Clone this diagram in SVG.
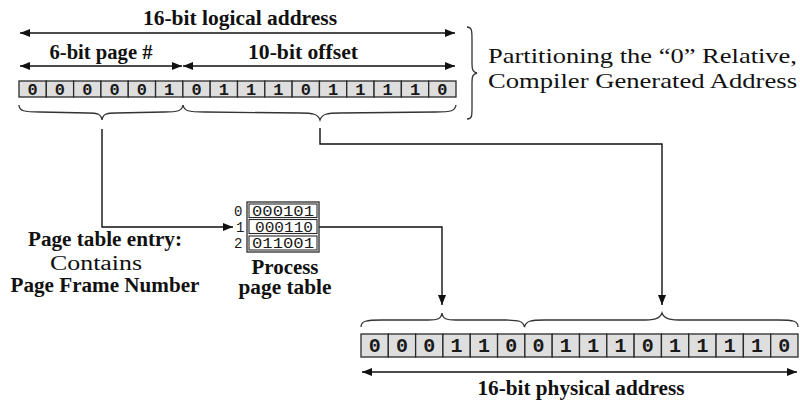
<svg xmlns="http://www.w3.org/2000/svg" width="800" height="402" viewBox="0 0 800 402">
  <style>
    .bg { fill: #ffffff; }
    .cell { fill: #dedede; stroke: #2a2a2a; stroke-width: 1.3; }
    .row { fill: #ffffff; stroke: #2a2a2a; stroke-width: 1.1; }
    .frame { fill: none; stroke: #2a2a2a; stroke-width: 1.3; }
    .bit { font-family: "Liberation Mono", "Courier New", monospace; font-weight: bold; text-anchor: middle; fill: #1a1a1a; }
    .bitTop { font-size: 17px; }
    .bitBot { font-size: 20px; }
    .pte { font-family: "Liberation Mono", "Courier New", monospace; font-size: 14px; fill: #1a1a1a; }
    .lbl { font-family: "Liberation Serif", "Times New Roman", serif; font-weight: bold; font-size: 20px; fill: #111; }
    .reg { font-family: "Liberation Serif", "Times New Roman", serif; font-size: 20px; fill: #111; }
    .note { font-family: "Liberation Serif", "Times New Roman", serif; font-size: 22px; fill: #111; }
    .wire { fill: none; stroke: #111; stroke-width: 1.4; }
    .brace { fill: none; stroke: #333; stroke-width: 1.3; }
  </style>
  <defs>
    <marker id="head" viewBox="0 0 10 8" refX="10" refY="4" markerWidth="10" markerHeight="8" markerUnits="userSpaceOnUse" orient="auto-start-reverse">
      <path d="M0,0 L10,4 L0,8 z" fill="#111"/>
    </marker>
  </defs>

  <rect class="bg" x="0" y="0" width="800" height="402"/>

  <!-- field width dimension lines -->
  <g id="dimensions">
    <line class="wire" x1="20" y1="33" x2="455" y2="33" marker-start="url(#head)" marker-end="url(#head)"/>
    <text class="lbl" x="240" y="25" text-anchor="middle" textLength="194" lengthAdjust="spacingAndGlyphs">16-bit logical address</text>
    <line class="wire" x1="20" y1="66" x2="182" y2="66" marker-start="url(#head)" marker-end="url(#head)"/>
    <line class="wire" x1="183" y1="66" x2="455" y2="66" marker-start="url(#head)" marker-end="url(#head)"/>
    <text class="lbl" x="101" y="59" text-anchor="middle" textLength="103" lengthAdjust="spacingAndGlyphs">6-bit page #</text>
    <text class="lbl" x="303" y="59" text-anchor="middle" textLength="110" lengthAdjust="spacingAndGlyphs">10-bit offset</text>
  </g>

  <!-- logical address register -->
  <g id="logical-address">
    <rect class="cell" x="19" y="81" width="27.31" height="16"/>
    <rect class="cell" x="46.31" y="81" width="27.31" height="16"/>
    <rect class="cell" x="73.62" y="81" width="27.31" height="16"/>
    <rect class="cell" x="100.94" y="81" width="27.31" height="16"/>
    <rect class="cell" x="128.25" y="81" width="27.31" height="16"/>
    <rect class="cell" x="155.56" y="81" width="27.31" height="16"/>
    <rect class="cell" x="182.88" y="81" width="27.31" height="16"/>
    <rect class="cell" x="210.19" y="81" width="27.31" height="16"/>
    <rect class="cell" x="237.5" y="81" width="27.31" height="16"/>
    <rect class="cell" x="264.81" y="81" width="27.31" height="16"/>
    <rect class="cell" x="292.12" y="81" width="27.31" height="16"/>
    <rect class="cell" x="319.44" y="81" width="27.31" height="16"/>
    <rect class="cell" x="346.75" y="81" width="27.31" height="16"/>
    <rect class="cell" x="374.06" y="81" width="27.31" height="16"/>
    <rect class="cell" x="401.38" y="81" width="27.31" height="16"/>
    <rect class="cell" x="428.69" y="81" width="27.31" height="16"/>
    <g class="bit bitTop">
      <text x="32.66" y="94.5">0</text><text x="59.97" y="94.5">0</text><text x="87.28" y="94.5">0</text><text x="114.59" y="94.5">0</text>
      <text x="141.91" y="94.5">0</text><text x="169.22" y="94.5">1</text><text x="196.53" y="94.5">0</text><text x="223.84" y="94.5">1</text>
      <text x="251.16" y="94.5">1</text><text x="278.47" y="94.5">1</text><text x="305.78" y="94.5">0</text><text x="333.09" y="94.5">1</text>
      <text x="360.41" y="94.5">1</text><text x="387.72" y="94.5">1</text><text x="415.03" y="94.5">1</text><text x="442.34" y="94.5">0</text>
    </g>
    <!-- braces under the page and offset fields -->
    <path class="brace" d="M19,105 C19,111 24,112 40,112 L88,113 C98,113 101,114 102,120 C103,114 106,113 116,113 L164,112 C178,112 182,111 183,105"/>
    <path class="brace" d="M183,105 C184,111 188,112 205,112 L300,113 C313,113 318,114 320,120 C322,114 327,113 340,113 L435,112 C452,112 455,111 456,105"/>
  </g>

  <!-- side note with brace -->
  <g id="note">
    <path class="brace" d="M467,27 C472,27 472,31 472,40 L472,64 C472,70 473,72 477,73 C473,74 472,76 472,82 L472,108 C472,116 472,119 467,119"/>
    <text class="note" x="488" y="63" textLength="309" lengthAdjust="spacingAndGlyphs">Partitioning the “0” Relative,</text>
    <text class="note" x="488" y="88" textLength="309" lengthAdjust="spacingAndGlyphs">Compiler Generated Address</text>
  </g>

  <!-- connectors -->
  <g id="connectors">
    <path class="wire" d="M102,129 L102,227 L233,227" marker-end="url(#head)"/>
    <path class="wire" d="M320,128 L320,144 L662,144 L662,305" marker-end="url(#head)"/>
    <path class="wire" d="M319,227 L442,227 L442,305" marker-end="url(#head)"/>
  </g>

  <!-- process page table -->
  <g id="page-table">
    <rect class="frame" x="247" y="202" width="72" height="50"/>
    <rect class="row" x="249" y="204" width="68" height="13.5"/>
    <rect class="row" x="249" y="219.5" width="68" height="14"/>
    <rect class="row" x="249" y="236" width="68" height="14"/>
    <text class="pte" x="234" y="215.5">0</text>
    <text class="pte" x="236" y="232">1</text>
    <text class="pte" x="234" y="248">2</text>
    <text class="pte" x="283" y="215.5" text-anchor="middle" textLength="62" lengthAdjust="spacingAndGlyphs">000101</text>
    <text class="pte" x="284" y="232" text-anchor="middle" textLength="58" lengthAdjust="spacingAndGlyphs">000110</text>
    <text class="pte" x="283" y="248" text-anchor="middle" textLength="62" lengthAdjust="spacingAndGlyphs">011001</text>
    <text class="lbl" x="285" y="274" text-anchor="middle" textLength="67" lengthAdjust="spacingAndGlyphs">Process</text>
    <text class="lbl" x="285" y="294" text-anchor="middle" textLength="93" lengthAdjust="spacingAndGlyphs">page table</text>
  </g>

  <!-- page table entry caption -->
  <g id="entry-caption">
    <text class="lbl" x="105" y="246" text-anchor="middle" textLength="154" lengthAdjust="spacingAndGlyphs">Page table entry:</text>
    <text class="reg" x="96" y="270" text-anchor="middle" textLength="92" lengthAdjust="spacingAndGlyphs">Contains</text>
    <text class="lbl" x="105" y="292" text-anchor="middle" textLength="189" lengthAdjust="spacingAndGlyphs">Page Frame Number</text>
  </g>

  <!-- physical address register -->
  <g id="physical-address">
    <path class="brace" d="M361,327 C361,321 366,320 382,320 L428,320 C438,320 441,319 442,313 C443,319 446,320 456,320 L505,320 C519,320 523,321 524.5,327 C526,321 530,320 545,320 L640,320 C654,320 660,319 662,313 C664,319 670,320 684,320 L778,320 C794,320 798,321 798,327"/>
    <rect class="cell" x="361" y="334" width="27.31" height="23"/>
    <rect class="cell" x="388.31" y="334" width="27.31" height="23"/>
    <rect class="cell" x="415.62" y="334" width="27.31" height="23"/>
    <rect class="cell" x="442.94" y="334" width="27.31" height="23"/>
    <rect class="cell" x="470.25" y="334" width="27.31" height="23"/>
    <rect class="cell" x="497.56" y="334" width="27.31" height="23"/>
    <rect class="cell" x="524.88" y="334" width="27.31" height="23"/>
    <rect class="cell" x="552.19" y="334" width="27.31" height="23"/>
    <rect class="cell" x="579.5" y="334" width="27.31" height="23"/>
    <rect class="cell" x="606.81" y="334" width="27.31" height="23"/>
    <rect class="cell" x="634.12" y="334" width="27.31" height="23"/>
    <rect class="cell" x="661.44" y="334" width="27.31" height="23"/>
    <rect class="cell" x="688.75" y="334" width="27.31" height="23"/>
    <rect class="cell" x="716.06" y="334" width="27.31" height="23"/>
    <rect class="cell" x="743.38" y="334" width="27.31" height="23"/>
    <rect class="cell" x="770.69" y="334" width="27.31" height="23"/>
    <g class="bit bitBot">
      <text x="374.66" y="352">0</text><text x="401.97" y="352">0</text><text x="429.28" y="352">0</text><text x="456.59" y="352">1</text>
      <text x="483.91" y="352">1</text><text x="511.22" y="352">0</text><text x="538.53" y="352">0</text><text x="565.84" y="352">1</text>
      <text x="593.16" y="352">1</text><text x="620.47" y="352">1</text><text x="647.78" y="352">0</text><text x="675.09" y="352">1</text>
      <text x="702.41" y="352">1</text><text x="729.72" y="352">1</text><text x="757.03" y="352">1</text><text x="784.34" y="352">0</text>
    </g>
    <line class="wire" x1="362" y1="372" x2="797" y2="372" marker-start="url(#head)" marker-end="url(#head)"/>
    <text class="lbl" x="581" y="395" text-anchor="middle" textLength="207" lengthAdjust="spacingAndGlyphs">16-bit physical address</text>
  </g>
</svg>
